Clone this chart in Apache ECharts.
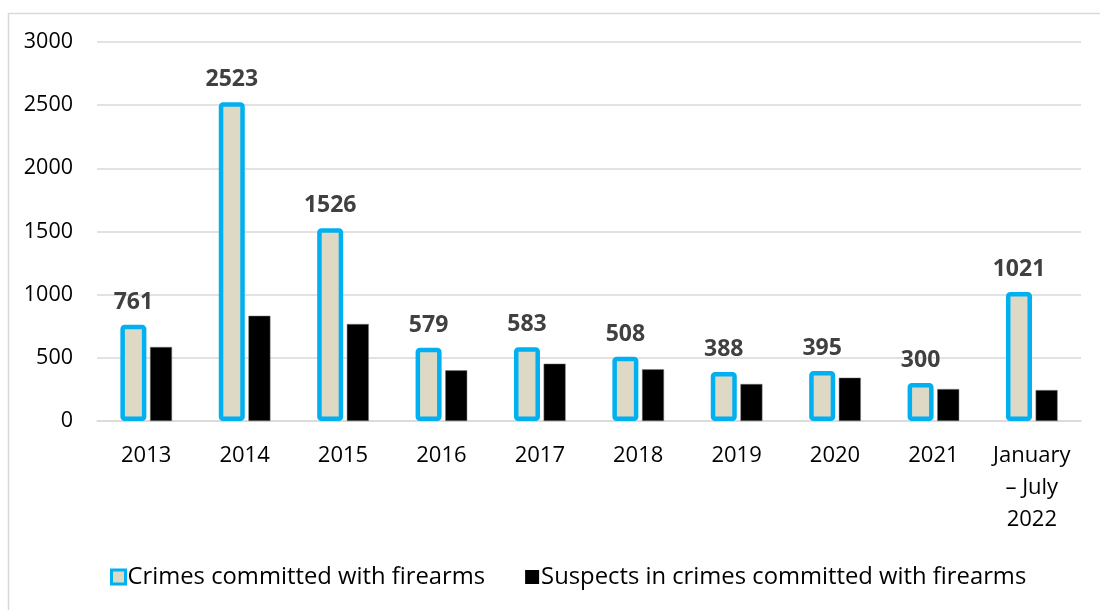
<!DOCTYPE html>
<html>
<head>
<meta charset="utf-8">
<script src="https://cdn.jsdelivr.net/npm/echarts@6/dist/echarts.min.js"></script>
<style>
  html, body { margin: 0; padding: 0; background: #fff; }
  #chart { width: 1100px; height: 610px; }
</style>
</head>
<body>
<div id="chart"></div>
<script>
// Firearm crimes and suspects by year
const categories = ['2013', '2014', '2015', '2016', '2017', '2018', '2019', '2020', '2021', 'January\n– July\n2022'];
const crimes = [761, 2523, 1526, 579, 583, 508, 388, 395, 300, 1021];
const suspects = [586, 833, 768, 401, 454, 409, 293, 343, 253, 245];
const yTicks = [0, 500, 1000, 1500, 2000, 2500, 3000];

const FONT = '"Open Sans", sans-serif';

const chart = echarts.init(document.getElementById('chart'));
chart.setOption({
  animation: false,
  backgroundColor: '#fff',
  textStyle: { fontFamily: FONT },
  graphic: [
    {
      type: 'polyline',
      shape: { points: [[8.5, 700], [8.5, 13.5], [1200, 13.5]] },
      style: { stroke: '#D9D9D9', lineWidth: 1.5, fill: null },
      silent: true
    }
  ],
  grid: { left: 97, right: 19, top: 42, bottom: 189, containLabel: false },
  legend: {
    bottom: 16,
    left: 105,
    itemWidth: 14,
    itemHeight: 14,
    itemGap: 40,
    textStyle: { fontSize: 23.8, color: '#000', fontFamily: FONT, padding: [0, 0, 0, -3] },
    data: [
      { name: 'Crimes committed with firearms', icon: 'rect',
        itemStyle: { color: '#DDD9C4', borderColor: '#00B0F0', borderWidth: 3 } },
      { name: 'Suspects in crimes committed with firearms', icon: 'rect',
        itemStyle: { color: '#000', borderWidth: 0 } }
    ]
  },
  xAxis: {
    type: 'category',
    data: categories,
    axisLine: { show: true, lineStyle: { color: '#D9D9D9', width: 1.5 } },
    axisTick: { show: false },
    axisLabel: { fontSize: 22, color: '#000', margin: 19, lineHeight: 32, fontFamily: FONT, interval: 0 }
  },
  yAxis: {
    type: 'value',
    min: yTicks[0],
    max: yTicks[yTicks.length - 1],
    interval: yTicks[1] - yTicks[0],
    axisLine: { show: false },
    axisTick: { show: false },
    splitLine: { lineStyle: { color: '#D9D9D9', width: 1.5 } },
    axisLabel: { fontSize: 21.5, color: '#000', margin: 24, fontFamily: FONT, formatter: v => String(v) }
  },
  series: [
    {
      name: 'Crimes committed with firearms',
      type: 'bar',
      data: crimes,
      barWidth: 26,
      barGap: '14%',
      itemStyle: { color: '#DDD9C4', borderColor: '#00B0F0', borderWidth: 4.5, borderRadius: 2 },
      label: {
        show: true,
        position: 'top',
        distance: 11,
        fontSize: 23,
        fontWeight: 'bold',
        color: '#404040',
        fontFamily: FONT
      }
    },
    {
      name: 'Suspects in crimes committed with firearms',
      type: 'bar',
      data: suspects,
      barWidth: 22,
      itemStyle: { color: '#000', borderColor: '#7F7F7F', borderWidth: 0.5 }
    }
  ]
});
</script>
</body>
</html>
